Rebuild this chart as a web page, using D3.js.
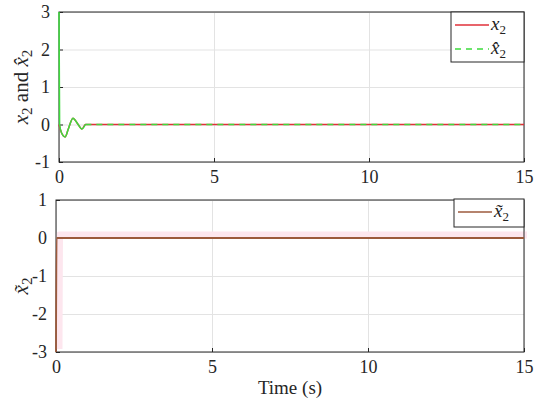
<!DOCTYPE html>
<html>
<head>
<meta charset="utf-8">
<script src="https://cdn.jsdelivr.net/npm/d3@7"></script>
<style>
  body { margin: 0; background: #fff; }
  .grid line { stroke: #e3e3e3; }
</style>
</head>
<body>
<svg width="550" height="412" font-family="Liberation Serif"></svg>
<script>
// time samples and signals
var tX = [0, 0.08, 0.2, 0.3, 0.45, 0.6, 0.74, 0.85, 1, 15];
var x2 = [0, -0.22, -0.33, -0.12, 0.17, 0.02, -0.12, 0, 0, 0];
var tHat = [0, 0.02, 0.08, 0.2, 0.3, 0.45, 0.6, 0.74, 0.85, 1, 15];
var x2hat = [3, 0, -0.22, -0.33, -0.12, 0.17, 0.02, -0.12, 0, 0, 0];
var tErr = [0, 0.02, 1, 15];
var x2err = [-3, 0, 0, 0];
var xTicks = [0, 5, 10, 15];
var yTicksTop = [-1, 0, 1, 2, 3];
var yTicksBot = [-3, -2, -1, 0, 1];

var SERIF = "Liberation Serif";
var svg = d3.select("svg");

function panel(top, bottom, left, right, ydom, yticks) {
  var x = d3.scaleLinear().domain([0, 15]).range([left, right]);
  var y = d3.scaleLinear().domain(ydom).range([bottom, top]);
  var g = svg.append("g");
  g.append("g").attr("class", "grid")
    .attr("transform", "translate(0," + bottom + ")")
    .call(d3.axisBottom(x).tickValues(xTicks).tickSize(-(bottom - top)).tickFormat(""))
    .call(function(s) { s.select(".domain").remove(); });
  g.append("g").attr("class", "grid")
    .attr("transform", "translate(" + left + ",0)")
    .call(d3.axisLeft(y).tickValues(yticks).tickSize(-(right - left)).tickFormat(""))
    .call(function(s) { s.select(".domain").remove(); });
  var xa = g.append("g").attr("transform", "translate(0," + bottom + ")")
    .call(d3.axisBottom(x).tickValues(xTicks).tickSize(-4).tickPadding(8));
  var ya = g.append("g").attr("transform", "translate(" + left + ",0)")
    .call(d3.axisLeft(y).tickValues(yticks).tickSize(-4).tickPadding(9)
      .tickFormat(function(d) { return String(d); }));
  [xa, ya].forEach(function(a) {
    a.attr("font-family", SERIF).attr("font-size", 18);
    a.select(".domain").remove();
    a.selectAll(".tick line").attr("stroke", "#262626");
    a.selectAll(".tick text")
      .style("font-family", SERIF).style("font-size", "18px").attr("fill", "#262626");
  });
  return {x: x, y: y, g: g, top: top, bottom: bottom, left: left, right: right};
}

function box(p) {
  p.g.append("rect")
    .attr("x", p.left).attr("y", p.top)
    .attr("width", p.right - p.left).attr("height", p.bottom - p.top)
    .attr("fill", "none").attr("stroke", "#262626").attr("stroke-width", 1);
}

function line(p, t, v) {
  return d3.line().curve(d3.curveMonotoneX)
    .x(function(d, i) { return p.x(t[i]); }).y(function(d) { return p.y(d); })(v);
}

// top panel
var p1 = panel(12, 162, 59, 524, [-1, 3], yTicksTop);
box(p1);
p1.g.append("path").attr("d", line(p1, tX, x2))
  .attr("fill", "none").attr("stroke", "#e0303a").attr("stroke-width", 1.5);
p1.g.append("path").attr("d", line(p1, tHat.slice(0, 9), x2hat.slice(0, 9)))
  .attr("fill", "none").attr("stroke", "#3ddc3d").attr("stroke-width", 1.5);
p1.g.append("path").attr("d", line(p1, tHat.slice(8), x2hat.slice(8)))
  .attr("fill", "none").attr("stroke", "#3ddc3d").attr("stroke-width", 1.5)
  .attr("stroke-dasharray", "6,5");

// bottom panel
var p2 = panel(200, 352, 56, 524, [-3, 1], yTicksBot);
p2.g.append("path").attr("d", line(p2, tErr, x2err))
  .attr("transform", "translate(3,-3)")
  .attr("fill", "none").attr("stroke", "#fde6ee").attr("stroke-width", 7);
box(p2);
p2.g.append("path").attr("d", line(p2, tErr, x2err))
  .attr("fill", "none").attr("stroke", "#9c5a3c").attr("stroke-width", 1.8);

// legends
function legend(x0, y0, w, h, items) {
  var lg = svg.append("g");
  lg.append("rect").attr("x", x0).attr("y", y0).attr("width", w).attr("height", h)
    .attr("fill", "#fff").attr("stroke", "#262626");
  items.forEach(function(it, i) {
    var yy = y0 + 13 + i * 24;
    lg.append("line").attr("x1", x0 + 4).attr("x2", x0 + 38).attr("y1", yy).attr("y2", yy)
      .attr("stroke", it.color).attr("stroke-width", 1.5)
      .attr("stroke-dasharray", it.dash || null);
    var tx = lg.append("text").attr("x", x0 + 40).attr("y", yy + 5)
      .style("font-family", SERIF)
      .style("font-size", "19px").style("font-style", "italic").attr("fill", "#222");
    tx.append("tspan").text(it.sym);
    tx.append("tspan").attr("dy", 4).style("font-size", "13px").style("font-style", "normal").text("2");
  });
}
legend(451, 12, 73, 50, [
  {color: "#e0303a", sym: "x"},
  {color: "#3ddc3d", sym: "x\u0302", dash: "6,5"}
]);
legend(454, 199, 70, 28, [
  {color: "#9c5a3c", sym: "x\u0303"}
]);

// axis labels
var yl1 = svg.append("text").attr("transform", "translate(28,87) rotate(-90)")
  .attr("text-anchor", "middle").style("font-family", SERIF)
  .style("font-size", "21px").attr("fill", "#262626");
yl1.append("tspan").style("font-style", "italic").text("x");
yl1.append("tspan").attr("dy", 4).style("font-size", "15px").text("2");
yl1.append("tspan").attr("dy", -4).text(" and ");
yl1.append("tspan").style("font-style", "italic").text("x\u0302");
yl1.append("tspan").attr("dy", 4).style("font-size", "15px").text("2");

var yl2 = svg.append("text").attr("transform", "translate(28,286) rotate(-90)")
  .attr("text-anchor", "middle").style("font-family", SERIF)
  .style("font-size", "21px").attr("fill", "#262626");
yl2.append("tspan").style("font-style", "italic").text("x\u0303");
yl2.append("tspan").attr("dy", 4).style("font-size", "15px").text("2");

svg.append("text").attr("x", 290).attr("y", 394).attr("text-anchor", "middle")
  .style("font-family", SERIF)
  .style("font-size", "19px").attr("fill", "#262626").text("Time (s)");
</script>
</body>
</html>
